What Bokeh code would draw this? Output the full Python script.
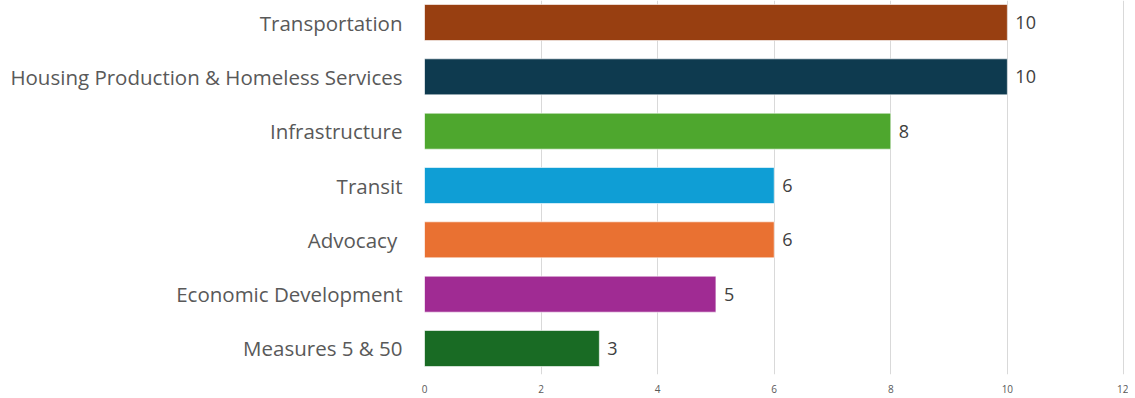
from bokeh.plotting import figure
from bokeh.models import Range1d, FixedTicker, ColumnDataSource, LabelSet
from bokeh.core.properties import value
from bokeh.embed import file_html
from bokeh.resources import INLINE

categories = ["Transportation", "Housing Production & Homeless Services", "Infrastructure",
              "Transit", "Advocacy ", "Economic Development", "Measures 5 & 50"]
values = [10, 10, 8, 6, 6, 5, 3]
colors = ["#983F11", "#0E3A4F", "#4EA72E", "#0F9ED5", "#E97132", "#A02B93", "#196B24"]
x_ticks = [0, 2, 4, 6, 8, 10, 12]

n = len(categories)
ypos = [n - 1 - i for i in range(n)]
src = ColumnDataSource(dict(y=ypos, v=values, c=colors, lab=[str(v) for v in values]))

p = figure(frame_width=700, frame_height=374, output_backend="svg", toolbar_location=None,
           x_range=Range1d(0, 12.01), y_range=Range1d(-0.4786, 6.405),
           min_border_left=424, min_border_right=4, min_border_top=0, min_border_bottom=0)
p.outline_line_color = None
p.background_fill_color = "white"

p.hbar(y="y", right="v", left=0, height=0.663, fill_color="c", line_color="white",
       line_alpha=0.6, line_width=1, source=src)

labels = LabelSet(x="v", y="y", text="lab", source=src, x_offset=8, y_offset=0,
                  text_baseline="middle", text_font=value("Open Sans"), text_font_size="18px",
                  text_color="#404040")
p.add_layout(labels)

p.xaxis.ticker = FixedTicker(ticks=x_ticks)
p.xaxis.axis_line_color = None
p.xaxis.major_tick_line_color = None
p.xaxis.minor_tick_line_color = None
p.xaxis.major_tick_out = 0
p.xaxis.major_label_text_font = "Open Sans"
p.xaxis.major_label_text_font_size = "10px"
p.xaxis.major_label_text_color = "#595959"
p.xaxis.major_label_standoff = 10

p.yaxis.ticker = FixedTicker(ticks=ypos)
p.yaxis.major_label_overrides = {y: c for y, c in zip(ypos, categories)}
p.yaxis.axis_line_color = None
p.yaxis.major_tick_line_color = None
p.yaxis.minor_tick_line_color = None
p.yaxis.major_tick_out = 0
p.yaxis.major_label_text_font = "Open Sans"
p.yaxis.major_label_text_font_size = "20.5px"
p.yaxis.major_label_text_color = "#595959"
p.yaxis.major_label_standoff = 22

p.ygrid.grid_line_color = None
p.xgrid.grid_line_color = "#D9D9D9"
p.xgrid.grid_line_width = 1

open("out.html", "w").write(file_html(p, INLINE))
